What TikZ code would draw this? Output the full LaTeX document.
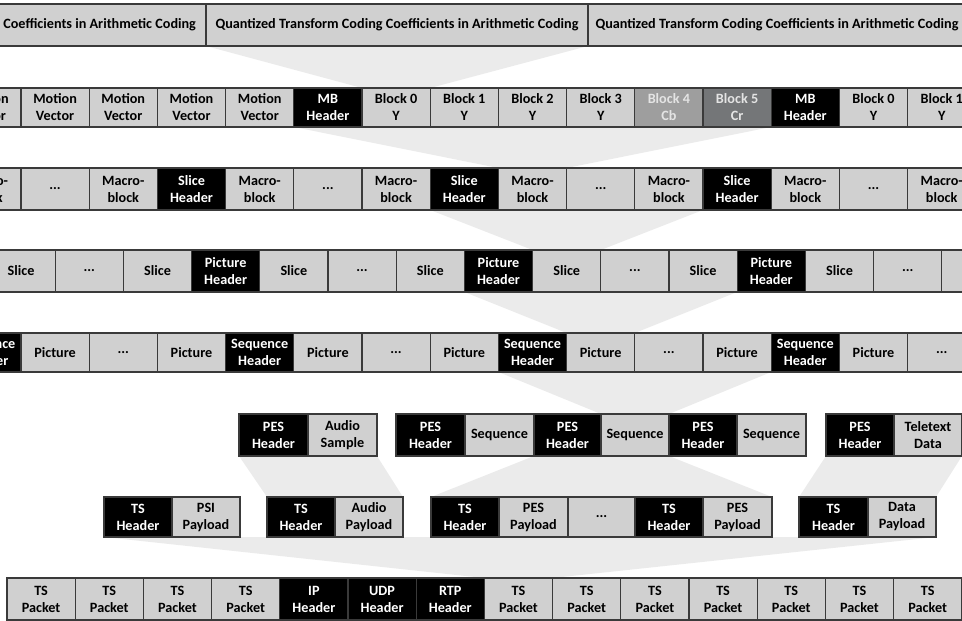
\documentclass[tikz,border=0pt]{standalone}
\usepackage{fontspec}
\setmainfont{Carlito}
\pgfdeclarelayer{background}
\pgfsetlayers{background,main}
\definecolor{edge}{RGB}{58,58,58}
\definecolor{cellgray}{RGB}{208,208,208}
\definecolor{funnelgray}{RGB}{235,235,235}
\definecolor{cbgray}{RGB}{158,158,158}
\definecolor{crgray}{RGB}{116,118,120}
\definecolor{lighttext}{RGB}{228,228,228}
% three dots for elided cells (kept out of \foreach lists, where ... means a range)
\newcommand\ellip{...}
\begin{document}
\begin{tikzpicture}[x=1pt,y=-1pt,
  box/.style={draw=edge, line width=1.1pt, inner sep=0pt, outer sep=0pt,
    anchor=north west, align=center,
    font=\bfseries\fontsize{14.2}{17}\selectfont},
  lite/.style={box, fill=cellgray, text=black},
  dark/.style={box, fill=black, text=white},
  mid/.style={box, fill=cbgray, text=lighttext},
  deep/.style={box, fill=crgray, text=lighttext},
  funnel/.style={fill=funnelgray, draw=none},
]
\useasboundingbox (0,0) rectangle (962,621);
\clip (0,0) rectangle (962,621);

% Level 1: coded coefficients
\node[lite, minimum width=383pt, minimum height=42pt] (q0) at (-177,4) {Quantized Transform Coding Coefficients in Arithmetic Coding};
\node[lite, minimum width=382pt, minimum height=42pt] (q1) at (206,4) {Quantized Transform Coding Coefficients in Arithmetic Coding};
\node[lite, minimum width=378pt, minimum height=42pt] (q2) at (588,4) {Quantized Transform Coding Coefficients in Arithmetic Coding};

% Level 2: macroblock contents
\foreach \s/\t [count=\k from 0] in {
  lite/Motion\\Vector, lite/Motion\\Vector, lite/Motion\\Vector, lite/Motion\\Vector,
  lite/Motion\\Vector, dark/MB\\Header, lite/Block 0\\Y, lite/Block 1\\Y,
  lite/Block 2\\Y, lite/Block 3\\Y, mid/Block 4\\Cb, deep/Block 5\\Cr,
  dark/MB\\Header, lite/Block 0\\Y, lite/Block 1\\Y}{
  \pgfmathsetmacro\xl{21+68.2*(\k-1)}
  \node[\s, minimum width=68.2pt, minimum height=39pt] (b\k) at (\xl,88) {\t};
}

% Level 3: slice contents
\foreach \s/\t [count=\k from 0] in {
  lite/Macro-\\block, lite/\ellip, lite/Macro-\\block, dark/Slice\\Header,
  lite/Macro-\\block, lite/\ellip, lite/Macro-\\block, dark/Slice\\Header,
  lite/Macro-\\block, lite/\ellip, lite/Macro-\\block, dark/Slice\\Header,
  lite/Macro-\\block, lite/\ellip, lite/Macro-\\block}{
  \pgfmathsetmacro\xl{21+68.2*(\k-1)}
  \node[\s, minimum width=68.2pt, minimum height=42pt] (m\k) at (\xl,168) {\t};
}

% Level 4: picture contents
\foreach \s/\t [count=\k from 0] in {
  lite/Slice, lite/\ellip, lite/Slice, dark/Picture\\Header,
  lite/Slice, lite/\ellip, lite/Slice, dark/Picture\\Header,
  lite/Slice, lite/\ellip, lite/Slice, dark/Picture\\Header,
  lite/Slice, lite/\ellip, lite/Slice}{
  \pgfmathsetmacro\xl{-13+68.2*\k}
  \node[\s, minimum width=68.2pt, minimum height=42pt] (s\k) at (\xl,250) {\t};
}

% Level 5: sequence contents
\foreach \s/\t [count=\k from 0] in {
  dark/Sequence\\Header, lite/Picture, lite/\ellip, lite/Picture,
  dark/Sequence\\Header, lite/Picture, lite/\ellip, lite/Picture,
  dark/Sequence\\Header, lite/Picture, lite/\ellip, lite/Picture,
  dark/Sequence\\Header, lite/Picture, lite/\ellip}{
  \pgfmathsetmacro\xl{21+68.2*(\k-1)}
  \node[\s, minimum width=68.2pt, minimum height=39pt] (p\k) at (\xl,333) {\t};
}

% Level 6: packetized elementary streams
\node[dark, minimum width=69pt, minimum height=42pt] (ea1) at (239,414) {PES\\Header};
\node[lite, minimum width=69pt, minimum height=42pt] (ea2) at (308,414) {Audio\\Sample};
\node[dark, minimum width=69pt, minimum height=42pt] (ev1) at (396,414) {PES\\Header};
\node[lite, minimum width=69pt, minimum height=42pt] (ev2) at (465,414) {Sequence};
\node[dark, minimum width=67pt, minimum height=42pt] (ev3) at (534,414) {PES\\Header};
\node[lite, minimum width=68pt, minimum height=42pt] (ev4) at (601,414) {Sequence};
\node[dark, minimum width=68pt, minimum height=42pt] (ev5) at (669,414) {PES\\Header};
\node[lite, minimum width=69pt, minimum height=42pt] (ev6) at (737,414) {Sequence};
\node[dark, minimum width=68pt, minimum height=42pt] (et1) at (826,414) {PES\\Header};
\node[lite, minimum width=68pt, minimum height=42pt] (et2) at (894,414) {Teletext\\Data};

% Level 7: transport stream packets
\node[dark, minimum width=68pt, minimum height=40pt] (tp1) at (104,497) {TS\\Header};
\node[lite, minimum width=68pt, minimum height=40pt] (tp2) at (172,497) {PSI\\Payload};
\node[dark, minimum width=68pt, minimum height=40pt] (ta1) at (267,497) {TS\\Header};
\node[lite, minimum width=68pt, minimum height=40pt] (ta2) at (335,497) {Audio\\Payload};
\node[dark, minimum width=68pt, minimum height=40pt] (tv1) at (431,497) {TS\\Header};
\node[lite, minimum width=69pt, minimum height=40pt] (tv2) at (499,497) {PES\\Payload};
\node[lite, minimum width=67pt, minimum height=40pt] (tv3) at (568,497) {\ellip};
\node[dark, minimum width=68pt, minimum height=40pt] (tv4) at (635,497) {TS\\Header};
\node[lite, minimum width=69pt, minimum height=40pt] (tv5) at (703,497) {PES\\Payload};
\node[dark, minimum width=69pt, minimum height=40pt] (td1) at (799,497) {TS\\Header};
\node[lite, minimum width=68pt, minimum height=40pt] (td2) at (868,497) {Data\\Payload};

% Level 8: IP datagram carrying TS packets
\foreach \s/\t [count=\k from 0] in {
  lite/TS\\Packet, lite/TS\\Packet, lite/TS\\Packet, lite/TS\\Packet,
  dark/IP\\Header, dark/UDP\\Header, dark/RTP\\Header,
  lite/TS\\Packet, lite/TS\\Packet, lite/TS\\Packet, lite/TS\\Packet,
  lite/TS\\Packet, lite/TS\\Packet, lite/TS\\Packet}{
  \pgfmathsetmacro\xl{7+68.2*\k}
  \node[\s, minimum width=68.2pt, minimum height=42pt] (k\k) at (\xl,578) {\t};
}

% Expansion funnels between levels
\begin{pgfonlayer}{background}
  \fill[funnel] (q1.south west) -- (q1.south east) -- (b6.north east) -- (b6.north west) -- cycle;
  \fill[funnel] (b5.south west) -- (b11.south east) -- (m8.north east) -- (m8.north west) -- cycle;
  \fill[funnel] (m7.south west) -- (m10.south east) -- (s8.north east) -- (s8.north west) -- cycle;
  \fill[funnel] (s7.south west) -- (s10.south east) -- (p9.north east) -- (p9.north west) -- cycle;
  \fill[funnel] (p8.south west) -- (p11.south east) -- (ev4.north east) -- (ev4.north west) -- cycle;
  \fill[funnel] (ea1.south west) -- (ea2.south east) -- (ta2.north east) -- (ta1.north west) -- cycle;
  \fill[funnel] (ev3.south west) -- (ev4.south east) -- (tv5.north east) -- (tv1.north west) -- cycle;
  \fill[funnel] (et1.south west) -- (et2.south east) -- (td2.north east) -- (td1.north west) -- cycle;
  \fill[funnel] (tp1.south west) -- (td2.south east) -- (k7.north east) -- (k7.north west) -- cycle;
\end{pgfonlayer}
\end{tikzpicture}
\end{document}
